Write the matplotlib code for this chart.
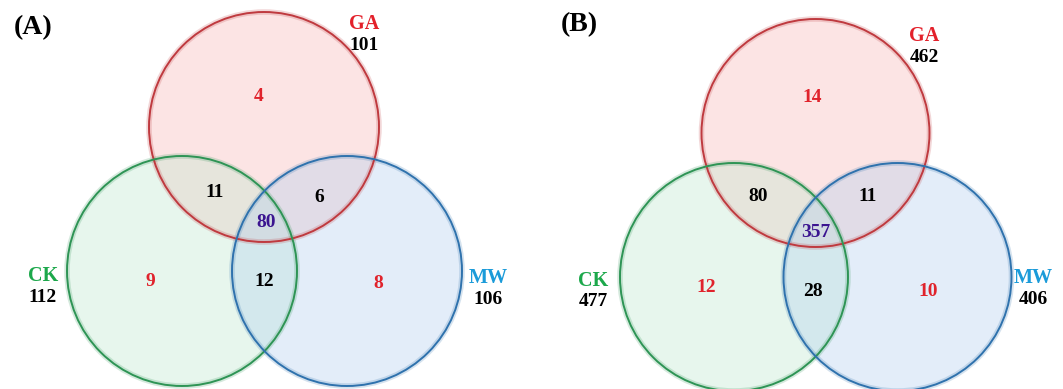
import matplotlib.pyplot as plt
from matplotlib.patches import Circle

# region counts: only GA, only CK, only MW, GA&CK, GA&MW, CK&MW, all three
sets = ['GA', 'CK', 'MW']
counts_a = [4, 9, 8, 11, 6, 12, 80]
counts_b = [14, 12, 10, 80, 11, 28, 357]

fill = {'GA': (249/255, 178/255, 178/255),
        'CK': (189/255, 232/255, 206/255),
        'MW': (175/255, 206/255, 238/255)}
edge = {'GA': '#bf3a3f', 'CK': '#2e9455', 'MW': '#2f72ad'}
name_col = {'GA': '#e3212b', 'CK': '#1ca84b', 'MW': '#1b9bd9'}

plt.rcParams['font.family'] = ['Liberation Serif', 'DejaVu Serif']
plt.rcParams['font.weight'] = 'bold'


def totals(c):
    ga = c[0] + c[3] + c[4] + c[6]
    ck = c[1] + c[3] + c[5] + c[6]
    mw = c[2] + c[4] + c[5] + c[6]
    return {'GA': ga, 'CK': ck, 'MW': mw}


def venn(ax, counts, tag, centers, r, region_xy, name_xy, tag_xy):
    for s in sets:
        cx, cy = centers[s]
        ax.add_patch(Circle((cx, cy), r, facecolor=fill[s], alpha=0.35,
                            edgecolor='none', zorder=1))
    for s in sets:
        cx, cy = centers[s]
        # soft halo under the outline
        ax.add_patch(Circle((cx, cy), r, fill=False, edgecolor=edge[s],
                            lw=4, alpha=0.2, zorder=2))
        ax.add_patch(Circle((cx, cy), r, fill=False, edgecolor=edge[s],
                            lw=1.4, zorder=3))
    cols = ['#e0232c'] * 3 + ['black'] * 3 + ['#3b1590']
    for n, (x, y), c in zip(counts, region_xy, cols):
        ax.text(x, y, str(n), color=c, fontsize=14, ha='center', va='center',
                zorder=5)
    tot = totals(counts)
    for s in sets:
        x, y = name_xy[s]
        ax.text(x, y, s, color=name_col[s], fontsize=14.5, ha='center',
                va='center')
        ax.text(x, y + 21, str(tot[s]), color='black', fontsize=14,
                ha='center', va='center')
    ax.text(tag_xy[0], tag_xy[1], tag, fontsize=20, ha='center', va='center')


fig = plt.figure(figsize=(10.63, 3.89), dpi=100)
ax = fig.add_axes([0, 0, 1, 1])
ax.set_xlim(0, 1063)
ax.set_ylim(389, 0)
ax.set_aspect('equal')
ax.axis('off')

venn(ax, counts_a, '(A)',
     {'GA': (264, 127), 'CK': (182, 271), 'MW': (347, 271)}, 115,
     [(259, 96), (150, 281), (378, 283), (215, 192), (319, 197), (264, 282),
      (266, 222)],
     {'GA': (364, 24), 'CK': (43, 276), 'MW': (488, 278)},
     (33, 28))

venn(ax, counts_b, '(B)',
     {'GA': (815.5, 133), 'CK': (734, 277), 'MW': (897.5, 277)}, 114,
     [(812, 97), (706, 288), (928, 291), (758, 196), (868, 196), (813, 292),
      (816, 232)],
     {'GA': (924, 36), 'CK': (593, 281), 'MW': (1033, 278)},
     (579, 25))

fig.savefig('out.png', dpi=100)
